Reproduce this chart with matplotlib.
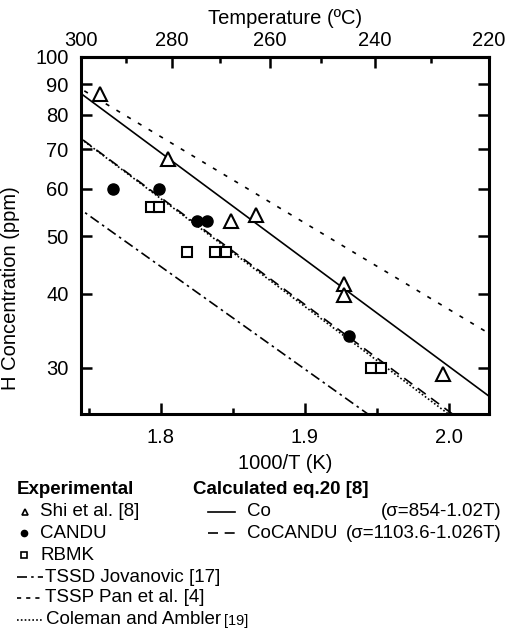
import numpy as np
import matplotlib
matplotlib.use('Agg')
from matplotlib import pyplot as plt
from matplotlib import transforms
from matplotlib.ticker import FixedLocator, NullLocator, FuncFormatter

plt.rcParams['font.family'] = ['Liberation Sans', 'DejaVu Sans']

R = 8.314

# experimental points: x = 1000/T (1/K), y = H concentration (ppm)
shi_x = [1.758, 1.805, 1.849, 1.866, 1.927, 1.927, 1.996]
shi_y = [86.5, 67.5, 53, 54.3, 41.5, 39.8, 29.3]
candu_x = [1.767, 1.799, 1.825, 1.832, 1.931]
candu_y = [60, 60, 53, 53, 34]
rbmk_x = [1.793, 1.799, 1.8185, 1.838, 1.845, 1.946, 1.953]
rbmk_y = [56, 56, 47, 47, 47, 30, 30]

# solubility curves C = A*exp(-Q/RT)   (A in ppm, Q in J/mol)
co = (1.19e5, 34420)
cocandu = (1.0e5, 34420)
tssd_jov = (5.68e4, 33040)
tssp_pan = (3.03e4, 27815)
coleman = (1.07e5, 34750)

temp_c = np.linspace(215, 305, 300)
y_ticks = [30, 40, 50, 60, 70, 80, 90, 100]
x_ticks = [1.8, 1.9, 2.0]
t_ticks = [300, 280, 260, 240, 220]
t_minor = [290, 270, 250, 230]

FS = 14.5
W, H = 505, 632

fig = plt.figure(figsize=(W / 100, H / 100), dpi=100)
ax = fig.add_axes([81 / W, 1 - 414 / H, 408 / W, 357 / H])


def curve(p):
    T = temp_c + 273.15
    return 1000 / T, p[0] * np.exp(-p[1] / (R * T))


lw = 1.2
x, c = curve(co)
ax.plot(x, c, color='black', lw=lw)
x, c = curve(cocandu)
ax.plot(x, c, color='black', lw=lw, dashes=(6, 4))
x, c = curve(tssd_jov)
ax.plot(x, c, color='black', lw=lw, dashes=(6, 2.5, 1.5, 2.5))
x, c = curve(tssp_pan)
ax.plot(x, c, color='black', lw=lw, dashes=(2.5, 5))
x, c = curve(coleman)
ax.plot(x, c, color='black', lw=lw, dashes=(1, 1.3))

ax.plot(shi_x, shi_y, ls='none', marker='^', ms=10, mfc='white', mec='black', mew=1.5)
ax.plot(candu_x, candu_y, ls='none', marker='o', ms=8, mfc='black', mec='black')
ax.plot(rbmk_x, rbmk_y, ls='none', marker='s', ms=7, mfc='white', mec='black', mew=1.5)

ax.set_xlim(1000 / 573.15, 1000 / 493.15)
ax.set_yscale('log')
ax.set_ylim(25.1, 100)

ax.yaxis.set_major_locator(FixedLocator(y_ticks))
ax.yaxis.set_minor_locator(NullLocator())
ax.yaxis.set_major_formatter(FuncFormatter(lambda v, p: '%d' % round(v)))
ax.set_xticks(x_ticks)
ax.set_xticklabels(['1.8', '1.9', '2.0'])
ax.xaxis.set_minor_locator(FixedLocator([1.75, 1.85, 1.95]))

ax.tick_params(axis='y', which='major', direction='in', left=True, right=True,
               length=8, width=1.8, labelsize=FS, pad=9)
ax.tick_params(axis='x', which='major', direction='in', top=False,
               length=8, width=1.8, labelsize=FS, pad=10)
ax.tick_params(axis='x', which='minor', direction='in', top=False,
               length=4, width=1.8)
for sp in ax.spines.values():
    sp.set_linewidth(2.2)

ax.set_xlabel('1000/T (K)', fontsize=FS, labelpad=5)
ax.set_ylabel('H Concentration (ppm)', fontsize=FS)
ax.yaxis.set_label_coords(-0.15, 0.353)

with np.errstate(divide='ignore'):
    sec = ax.secondary_xaxis('top', functions=(lambda v: 1000 / v - 273.15,
                                                lambda t: 1000 / (t + 273.15)))
sec.set_xticks(t_ticks)
sec.xaxis.set_minor_locator(FixedLocator(t_minor))
sec.tick_params(which='major', direction='in', length=8, width=1.8, labelsize=FS, pad=5)
sec.tick_params(which='minor', direction='in', length=4, width=1.8)
sec.spines['top'].set_linewidth(2.2)
sec.set_xlabel('Temperature (ºC)', fontsize=FS, labelpad=5)

# legend block below the plot, laid out in pixel coordinates
lax = fig.add_axes([0, 0, 1, 1])
lax.set_xlim(0, W)
lax.set_ylim(H, 0)
lax.axis('off')

LF = 13.5
lax.text(17, 490, 'Experimental', fontsize=LF, fontweight='bold', va='center')
lax.text(193, 490, 'Calculated eq.20 [8]', fontsize=LF, fontweight='bold', va='center')

lax.plot([25], [512], marker='^', ms=5, mfc='white', mec='black', mew=1.2)
lax.text(40, 512, 'Shi et al. [8]', fontsize=LF, va='center')
lax.plot([24], [533], marker='o', ms=4.5, mfc='black', mec='black')
lax.text(40, 533, 'CANDU', fontsize=LF, va='center')
lax.plot([24], [555], marker='s', ms=4.5, mfc='white', mec='black', mew=1.2)
lax.text(40, 555, 'RBMK', fontsize=LF, va='center')

lax.plot([208, 235], [512, 512], color='black', lw=lw)
lax.text(247, 512, 'Co', fontsize=LF, va='center')
lax.text(502, 512, '(σ=854-1.02T)', fontsize=LF, va='center', ha='right')
lax.plot([208, 235], [533, 533], color='black', lw=lw, dashes=(6, 4))
lax.text(247, 533, 'CoCANDU', fontsize=LF, va='center')
lax.text(502, 533, '(σ=1103.6-1.026T)', fontsize=LF, va='center', ha='right')

lax.plot([17, 43], [577, 577], color='black', lw=lw, dashes=(6, 2.5, 1.5, 2.5))
lax.text(45, 577, 'TSSD Jovanovic [17]', fontsize=LF, va='center')
lax.plot([17, 43], [598, 598], color='black', lw=lw, dashes=(2.5, 3))
lax.text(45, 598, 'TSSP Pan et al. [4]', fontsize=LF, va='center')
lax.plot([17, 43], [620, 620], color='black', lw=lw, dashes=(1, 1.3))
t = lax.text(46, 620, 'Coleman and Ambler', fontsize=LF, va='center')

# put the small "[19]" right after the Coleman text
fig.canvas.draw()
bb = t.get_window_extent()
tr = transforms.blended_transform_factory(transforms.IdentityTransform(), lax.transData)
lax.text(bb.x1 + 3, 621, '[19]', fontsize=10.5, va='center', transform=tr)

fig.savefig('out.png', dpi=100)
